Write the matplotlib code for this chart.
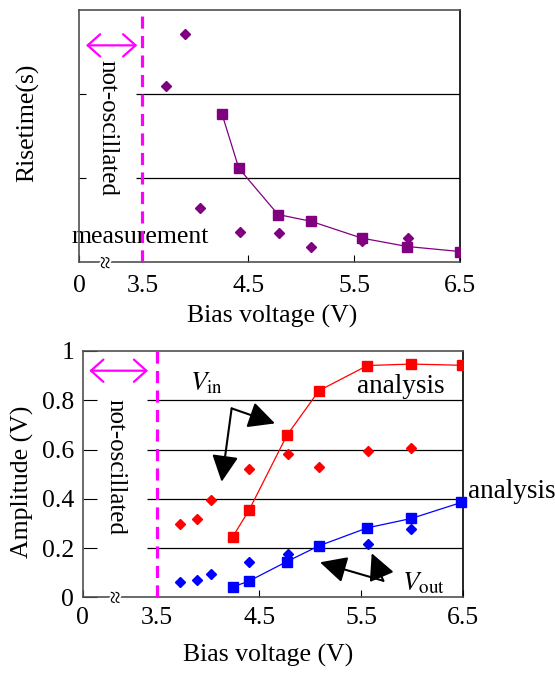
import matplotlib
matplotlib.use("Agg")
import matplotlib.pyplot as plt
import matplotlib.patheffects as pe

plt.rcParams['font.family'] = ['Liberation Serif', 'DejaVu Serif']
plt.rcParams['mathtext.fontset'] = 'stix'

# ---- data (x: bias voltage in V) ----
rise_meas_v = [3.72, 3.90, 4.04, 4.42, 4.79, 5.09, 5.57, 6.01]
rise_meas_t = [2.10, 2.72, 0.65, 0.36, 0.35, 0.18, 0.26, 0.29]
rise_anal_v = [4.25, 4.41, 4.78, 5.09, 5.57, 6.00, 6.50]
rise_anal_t = [1.77, 1.12, 0.57, 0.49, 0.29, 0.19, 0.13]

vin_meas_v = [3.72, 3.89, 4.03, 4.40, 4.78, 5.09, 5.57, 5.99]
vin_meas_a = [0.296, 0.318, 0.397, 0.520, 0.582, 0.528, 0.593, 0.608]
vin_anal_v = [4.24, 4.40, 4.77, 5.085, 5.56, 5.99, 6.49]
vin_anal_a = [0.246, 0.354, 0.657, 0.839, 0.941, 0.947, 0.942]

vout_meas_v = [3.72, 3.89, 4.03, 4.40, 4.78, 5.57, 5.99]
vout_meas_a = [0.062, 0.072, 0.093, 0.145, 0.177, 0.218, 0.278]
vout_anal_v = [4.24, 4.40, 4.77, 5.085, 5.56, 5.99, 6.48]
vout_anal_a = [0.042, 0.066, 0.145, 0.209, 0.282, 0.320, 0.385]

tick_labels = ['0', '3.5', '4.5', '5.5', '6.5']
amp_ticks = [0, 0.2, 0.4, 0.6, 0.8, 1.0]
amp_labels = ['0', '0.2', '0.4', '0.6', '0.8', '1']

FS = 18.5
purple = '#800080'
magenta = '#ff00ff'

fig = plt.figure(figsize=(5.55, 6.75), dpi=100)


def style_axes(ax, xmin):
    ax.set_xlim(xmin, 6.5)
    ax.set_xticks([xmin, 3.5, 4.5, 5.5, 6.5])
    ax.set_xticklabels(tick_labels, fontsize=FS)
    for s in ax.spines.values():
        s.set_color('#505050')
        s.set_linewidth(1.2)
    ax.spines['right'].set_color('black')
    ax.axvline(3.5, color=magenta, lw=2.3, ls=(0, (3.8, 2.3)), zorder=5)


def axis_break(ax, x):
    ax.text(x, 0, '\u2248', rotation=90, fontsize=17, ha='center', va='center',
            clip_on=False, zorder=6,
            path_effects=[pe.withStroke(linewidth=3, foreground='white')])


# ---------------- top panel: rise time ----------------
ax1 = fig.add_axes([79 / 555, 1 - 262.5 / 675, 381.3 / 555, 252.5 / 675])
style_axes(ax1, 2.902)
ax1.set_ylim(0, 3)
ax1.set_yticks([1, 2])
ax1.set_yticklabels([])
ax1.tick_params(axis='y', direction='in', length=5)
ax1.tick_params(axis='x', direction='in', length=5, pad=9)
ax1.hlines([1, 2], 3.44, 6.5, color='black', lw=0.9, zorder=1)

ax1.plot(rise_anal_v, rise_anal_t, color=purple, lw=0.9, marker='s', ms=6.5, zorder=3)
ax1.plot(rise_meas_v, rise_meas_t, ls='none', color=purple, marker='D', ms=4.6, zorder=3)

ax1.annotate('', xy=(2.968, 2.58), xytext=(3.452, 2.58),
             arrowprops=dict(arrowstyle='<->,head_length=0.45,head_width=0.4',
                             color=magenta, lw=1.6, mutation_scale=20,
                             shrinkA=0, shrinkB=0))
ax1.text(3.17, 1.60, 'not-oscillated', rotation=-90, fontsize=18,
         ha='center', va='center')
ax1.text(2.833, 0.236, 'measurement', fontsize=FS, ha='left', va='baseline',
         clip_on=False, zorder=2)
axis_break(ax1, 3.171)

fig.text(28 / 555, 1 - 123 / 675, 'Risetime(s)', rotation=90, fontsize=FS,
         ha='center', va='center')
fig.text(272 / 555, 1 - 316 / 675, 'Bias voltage (V)', fontsize=FS,
         ha='center', va='center')

# ---------------- bottom panel: amplitude ----------------
ax2 = fig.add_axes([82.7 / 555, 1 - 597.3 / 675, 380.6 / 555, 246.3 / 675])
style_axes(ax2, 2.769)
ax2.set_ylim(0, 1)
ax2.set_yticks(amp_ticks)
ax2.set_yticklabels(amp_labels, fontsize=FS)
ax2.tick_params(axis='y', direction='in', length=10, pad=6)
ax2.tick_params(axis='x', direction='in', length=5, pad=7)
ax2.hlines([0.2, 0.4, 0.6, 0.8], 3.40, 6.5, color='black', lw=0.9, zorder=1)

ax2.plot(vin_anal_v, vin_anal_a, color='red', lw=0.9, marker='s', ms=6.5, zorder=3)
ax2.plot(vin_meas_v, vin_meas_a, ls='none', color='red', marker='D', ms=4.6, zorder=3)
ax2.plot(vout_anal_v, vout_anal_a, color='blue', lw=0.9, marker='s', ms=6.5,
         zorder=3, clip_on=False)
ax2.plot(vout_meas_v, vout_meas_a, ls='none', color='blue', marker='D', ms=4.6, zorder=3)

ax2.annotate('', xy=(2.833, 0.92), xytext=(3.41, 0.92),
             arrowprops=dict(arrowstyle='<->,head_length=0.45,head_width=0.4',
                             color=magenta, lw=1.6, mutation_scale=20,
                             shrinkA=0, shrinkB=0))
ax2.text(3.09, 0.53, 'not-oscillated', rotation=-90, fontsize=18,
         ha='center', va='center')
axis_break(ax2, 3.11)

ax2.text(3.82, 0.842, r'$V_{\rm in}$', fontsize=FS + 1, ha='left', va='baseline')
ax2.text(5.455, 0.828, 'analysis', fontsize=FS + 1, ha='left', va='baseline')
ax2.text(6.549, 0.402, 'analysis', fontsize=FS + 1, ha='left', va='baseline',
         clip_on=False)
ax2.text(5.896, 0.030, r'$V_{\rm out}$', fontsize=FS + 1, ha='left', va='baseline')

black_arrow = dict(arrowstyle='-|>,head_length=0.9,head_width=0.45', color='black',
                   lw=1.5, mutation_scale=18, shrinkA=0, shrinkB=0)
ax2.annotate('', xy=(4.654, 0.706), xytext=(4.229, 0.767), arrowprops=black_arrow)
ax2.annotate('', xy=(4.131, 0.469), xytext=(4.229, 0.767), arrowprops=black_arrow)
ax2.annotate('', xy=(5.095, 0.142), xytext=(5.716, 0.067), arrowprops=black_arrow)
ax2.annotate('', xy=(5.602, 0.179), xytext=(5.716, 0.067), arrowprops=black_arrow)

fig.text(22 / 555, 1 - 482 / 675, 'Amplitude (V)', rotation=90, fontsize=FS,
         ha='center', va='center')
fig.text(268 / 555, 1 - 655 / 675, 'Bias voltage (V)', fontsize=FS,
         ha='center', va='center')

fig.savefig('out.png', dpi=100)
